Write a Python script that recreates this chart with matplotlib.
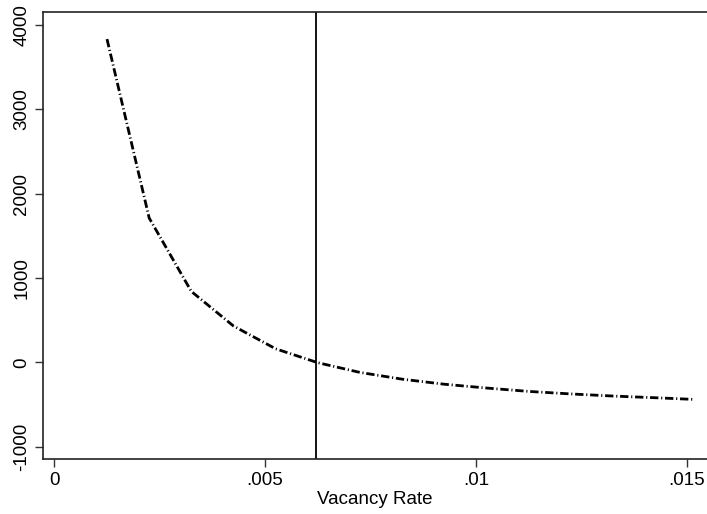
import matplotlib
matplotlib.use("Agg")
import matplotlib.pyplot as plt

plt.rcParams['font.family'] = ['Liberation Sans', 'DejaVu Sans']

vacancy_rate = [0.00125, 0.00225, 0.00325, 0.00425, 0.00525, 0.00625, 0.00725,
                0.00825, 0.00925, 0.01025, 0.01125, 0.01225, 0.01325, 0.01425, 0.01518]
value = [3830, 1710, 840, 430, 160, -5, -120, -200, -260, -305, -345, -375, -400, -420, -440]
vline_x = 0.0062

x_ticks = [0, 0.005, 0.01, 0.015]
x_ticklabels = ["0", ".005", ".01", ".015"]
y_ticks = [-1000, 0, 1000, 2000, 3000, 4000]
y_ticklabels = ["-1000", "0", "1000", "2000", "3000", "4000"]

fig = plt.figure(figsize=(7.07, 5.14), dpi=100)
ax = fig.add_axes([0.0604, 0.107, 0.9396, 0.8687])

ax.plot(vacancy_rate, value, color='black', lw=2.0, linestyle=(0, (3.0, 1.0, 0.4, 1.0)),
        dash_capstyle='butt')
ax.axvline(vline_x, color='black', lw=1.3)

ax.set_xlim(-0.000275, 0.015481)
ax.set_ylim(-1146, 4145)

ax.set_xticks(x_ticks)
ax.set_xticklabels(x_ticklabels, fontsize=13.5)
ax.set_yticks(y_ticks)
ax.set_yticklabels(y_ticklabels, fontsize=13.5, rotation=90, va='center')
ax.tick_params(axis='both', direction='out', length=6, width=1.0, color='#333333', pad=3)

ax.spines['right'].set_visible(False)
for s in ['left', 'bottom', 'top']:
    ax.spines[s].set_linewidth(1.2)
    ax.spines[s].set_color('#222222')

ax.set_xlabel("Vacancy Rate", fontsize=13.5, labelpad=2)

fig.savefig("out.png", dpi=100)
